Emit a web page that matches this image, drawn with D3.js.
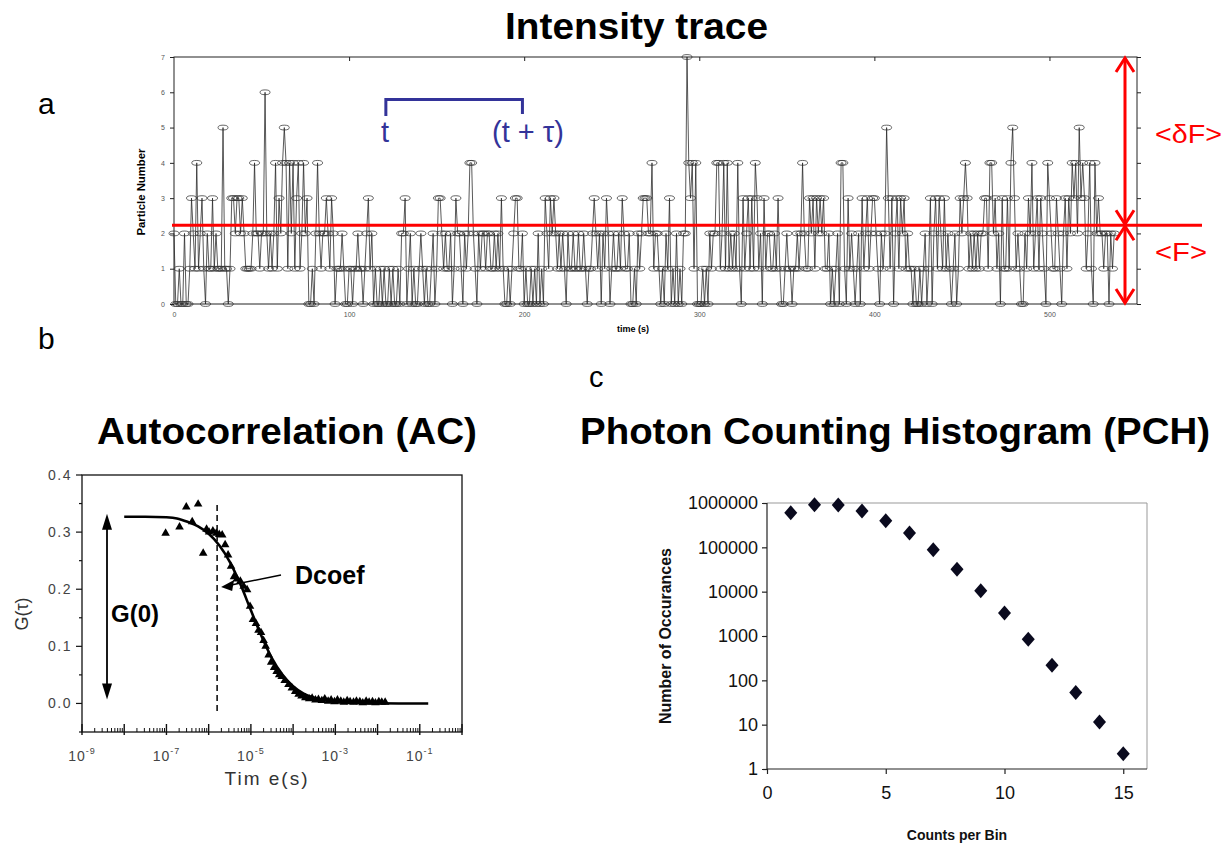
<!DOCTYPE html>
<html><head><meta charset="utf-8">
<script src="https://cdn.jsdelivr.net/npm/d3@7"></script>
<style>
body{margin:0;background:#fff;}
svg{display:block;}
text{font-family:"Liberation Sans",Arial,Helvetica,sans-serif;}
</style>
</head><body>
<svg id="fig" width="1225" height="847"></svg>
<script>
// ---------- Panel a: intensity trace (particle number per 1 s bin) ----------
const traceCounts = [
2,0,0,1,0,0,2,0,0,1, 3,2,1,4,1,2,3,1,0,2, 1,1,3,1,2,1,1,1,5,1, 1,0,1,3,3,2,3,3,2,3,
2,1,1,1,1,2,4,2,2,1, 2,2,6,2,1,2,1,2,4,1, 3,2,4,5,4,1,4,2,4,1, 3,4,1,2,4,2,3,0,0,1,
0,2,4,2,1,2,2,3,2,1, 3,2,0,1,1,1,2,1,0,0, 1,1,0,1,1,2,1,1,0,1, 2,3,1,2,0,1,0,0,1,0,
1,0,0,1,0,1,0,0,1,0, 2,2,3,0,1,2,0,1,0,0, 1,2,1,0,1,0,0,1,2,0, 1,3,3,2,1,2,1,1,2,0,
1,3,2,2,1,0,2,1,2,4, 4,2,1,0,2,1,2,2,1,2, 2,1,1,2,1,2,1,3,1,0, 0,1,0,1,2,3,3,1,1,2,
0,1,0,0,1,0,1,0,2,0, 1,0,3,2,1,3,2,3,2,1, 2,1,2,1,0,2,1,1,2,1, 1,2,1,1,2,1,0,1,1,2,
3,2,1,2,0,2,1,3,2,0, 1,2,1,1,2,1,3,2,1,1, 2,0,0,1,0,2,1,2,3,3, 3,2,2,4,1,2,2,1,0,1,
0,2,1,3,0,1,0,2,0,1, 0,2,2,7,4,3,4,1,4,0, 0,0,1,0,1,0,2,1,2,2, 4,4,1,2,4,1,4,1,2,1,
2,1,4,1,0,3,1,2,3,1, 3,1,4,3,1,2,0,3,1,2, 2,1,1,2,1,3,1,0,0,1, 2,1,1,0,1,1,2,1,2,4,
2,1,1,3,2,3,1,3,2,3, 2,3,1,1,2,0,1,0,1,2, 0,4,4,1,0,3,1,2,1,0, 1,2,0,3,1,2,3,1,2,3,
3,2,1,0,2,1,2,5,3,1, 3,0,2,3,1,3,2,3,1,2, 1,1,0,1,0,0,1,0,1,2, 0,1,3,0,2,3,1,3,2,1,
3,1,2,1,0,1,2,0,1,3, 2,3,4,3,1,2,1,2,1,2, 1,2,2,3,3,1,4,4,2,3, 1,2,0,3,1,1,3,1,4,5,
3,1,2,1,0,0,2,1,3,2, 4,1,2,3,1,3,2,1,0,4, 3,2,1,1,3,2,1,0,2,3, 1,3,2,4,3,4,2,5,3,4,
3,1,2,4,1,0,4,2,3,2, 2,1,2,2,0,2,1,2
];
const traceXTicks = [0,100,200,300,400,500];
const traceYTicks = [0,1,2,3,4,5,6,7];
const meanLevel = 2.23;

// ---------- Panel b: autocorrelation ----------
const acCurveLogTau = [-8,-7.5,-7,-6.75,-6.5,-6.25,-6,-5.75,-5.5,-5.25,-5,-4.75,-4.5,-4.25,-4,-3.75,-3.5,-3.25,-3,-2.5,-2,-1.5,-0.8];
const acCurveG      = [0.327,0.327,0.326,0.324,0.318,0.310,0.297,0.277,0.248,0.209,0.163,0.118,0.079,0.050,0.030,0.017,0.010,0.006,0.003,0.001,0.0003,0,0];
const acDataLogTau = [-7.02,-6.69,-6.53,-6.39,-6.25,-6.13,-6.05,-5.99,-5.90,-5.82,-5.75,-5.68,-5.61,-5.54,-5.47,-5.40,-5.33,-5.25,-5.17,-5.09,
  -5.02,-4.95,-4.88,-4.82,-4.76,-4.70,-4.65,-4.58,-4.52,-4.45,-4.39,-4.33,-4.27,-4.20,-4.11,-4.03,-3.95,-3.87,-3.80,-3.71,
  -3.62,-3.55,-3.47,-3.40,-3.32,-3.25,-3.17,-3.10,-3.02,-2.95,-2.87,-2.80,-2.72,-2.65,-2.57,-2.50,-2.42,-2.35,-2.27,-2.20,
  -2.12,-2.05,-1.97,-1.90,-1.82];
const acDataG = [0.298,0.309,0.344,0.318,0.349,0.263,0.305,0.300,0.302,0.298,0.296,0.295,0.278,0.260,0.240,0.222,0.218,0.214,0.205,0.199,
  0.170,0.147,0.140,0.128,0.124,0.110,0.100,0.085,0.072,0.063,0.056,0.050,0.047,0.040,0.033,0.027,0.021,0.016,0.013,0.010,
  0.008,0.009,0.006,0.007,0.005,0.008,0.004,0.006,0.003,0.006,0.004,0.002,0.005,0.003,0.002,0.004,0.003,0.001,0.004,0.002,
  0.003,0.001,0.003,0.002,0.002];
const acYTicks = [0,0.1,0.2,0.3,0.4];
const acXLabelExponents = [-9,-7,-5,-3,-1];
const dcoefLogTau = -5.8;
const g0Value = 0.327;

// ---------- Panel c: photon counting histogram ----------
const pchCounts = [1,2,3,4,5,6,7,8,9,10,11,12,13,14,15];
const pchOccurrences = [600000,910000,900000,660000,400000,210000,88000,32000,10500,3300,850,220,53,11.5,2.2];
const pchXTicks = [0,5,10,15];
const pchYTicks = [1,10,100,1000,10000,100000,1000000];

const svg = d3.select("#fig");

// ================= Panel a =================
const ga = svg.append("g");
const xa = d3.scaleLinear().domain([0,550]).range([174,1137]);
const ya = d3.scaleLinear().domain([0,7]).range([304,57]);

ga.append("text").attr("x",505).attr("y",39).attr("textLength",263).attr("lengthAdjust","spacingAndGlyphs")
  .attr("font-size",36).attr("font-weight","bold").text("Intensity trace");
svg.append("text").attr("x",38).attr("y",114).attr("font-size",30).text("a");
svg.append("text").attr("x",38).attr("y",349).attr("font-size",30).text("b");
svg.append("text").attr("x",589).attr("y",387).attr("font-size",29).text("c");

// frame
ga.append("rect").attr("x",xa(0)).attr("y",ya(7)).attr("width",xa(550)-xa(0)).attr("height",ya(0)-ya(7))
  .attr("fill","none").attr("stroke","#222").attr("stroke-width",1);

// trace line
const traceLine = d3.line().x((d,i)=>xa(i)).y(d=>ya(d));
ga.append("path").datum(traceCounts).attr("d",traceLine)
  .attr("fill","none").attr("stroke","#222").attr("stroke-width",0.75);
ga.selectAll("ellipse.pt").data(traceCounts).join("ellipse").attr("class","pt")
  .attr("cx",(d,i)=>xa(i)).attr("cy",d=>ya(d)).attr("rx",5).attr("ry",2.4)
  .attr("fill","none").attr("stroke","#333").attr("stroke-width",0.75);

// axes
const axLeft = d3.axisLeft(ya).tickValues(traceYTicks).tickSize(4).tickPadding(5).tickFormat(d3.format("d"));
const gl = ga.append("g").attr("transform",`translate(${xa(0)},0)`).call(axLeft);
const axRight = d3.axisLeft(ya).tickValues(traceYTicks).tickSize(4).tickFormat("");
ga.append("g").attr("transform",`translate(${xa(550)+4},0)`).call(axRight);
const axBottom = d3.axisBottom(xa).tickValues(traceXTicks).tickSize(0).tickPadding(8).tickFormat(d3.format("d"));
const gb = ga.append("g").attr("transform",`translate(0,${ya(0)})`).call(axBottom);
const axTop = d3.axisBottom(xa).tickValues(traceXTicks.slice(1)).tickSize(4).tickFormat("");
ga.append("g").attr("transform",`translate(0,${ya(7)})`).call(axTop);
ga.selectAll(".domain").remove();
ga.selectAll(".tick line").attr("stroke","#222");
[gl,gb].forEach(g=>g.selectAll("text").attr("font-size",7).attr("fill","#555").attr("font-family","Liberation Sans, Arial"));

ga.append("text").attr("transform","translate(145,192) rotate(-90)").attr("text-anchor","middle")
  .attr("font-size",10).attr("font-weight","bold").attr("textLength",87).attr("lengthAdjust","spacingAndGlyphs").text("Particle Number");
ga.append("text").attr("x",633).attr("y",332).attr("text-anchor","middle")
  .attr("font-size",9).attr("font-weight","bold").text("time (s)");

// blue bracket t ... t+tau
const blue = "#333399";
ga.append("path").attr("d",`M${xa(121)},116 V99.5 H${xa(199)} V114`)
  .attr("fill","none").attr("stroke",blue).attr("stroke-width",3);
ga.append("text").attr("x",xa(120.5)).attr("y",142).attr("text-anchor","middle").attr("font-size",29).attr("fill",blue).text("t");
ga.append("text").attr("x",528).attr("y",142).attr("text-anchor","middle").attr("font-size",29).attr("fill",blue).text("(t + τ)");

// red mean line & arrows
const red = "#ff0000";
const yMean = ya(meanLevel);
ga.append("line").attr("x1",172).attr("x2",1202).attr("y1",yMean).attr("y2",yMean)
  .attr("stroke",red).attr("stroke-width",3);
const ax = 1125;
const arrowDefs = [[ya(7),yMean],[yMean,ya(0)]];
arrowDefs.forEach(([a,b])=>{
  ga.append("line").attr("x1",ax).attr("x2",ax).attr("y1",a+1).attr("y2",b-1).attr("stroke",red).attr("stroke-width",3);
  ga.append("path").attr("d",`M${ax-9},${a+15} L${ax},${a+1} L${ax+9},${a+15}`).attr("fill","none").attr("stroke",red).attr("stroke-width",3);
  ga.append("path").attr("d",`M${ax-9},${b-15} L${ax},${b-1} L${ax+9},${b-15}`).attr("fill","none").attr("stroke",red).attr("stroke-width",3);
});
ga.append("text").attr("x",1155).attr("y",143).attr("textLength",67).attr("lengthAdjust","spacingAndGlyphs")
  .attr("font-size",26).attr("fill",red).text("<δF>");
ga.append("text").attr("x",1155).attr("y",261).attr("textLength",52).attr("lengthAdjust","spacingAndGlyphs")
  .attr("font-size",26).attr("fill",red).text("<F>");

// ================= Panel b =================
const gbp = svg.append("g");
const xb = d3.scaleLog().domain([1e-9,1]).range([82,462]);
const yb = d3.scaleLinear().domain([-0.05,0.4]).range([732,475]);

gbp.append("text").attr("x",97).attr("y",444).attr("textLength",380).attr("lengthAdjust","spacingAndGlyphs")
  .attr("font-size",37).attr("font-weight","bold").text("Autocorrelation (AC)");

gbp.append("rect").attr("x",82).attr("y",475).attr("width",380).attr("height",257)
  .attr("fill","none").attr("stroke","#111").attr("stroke-width",1.3);

// y ticks
d3.range(-0.05,0.401,0.05).forEach(v=>{
  const major = Math.abs(Math.round(v*10)-v*10)<1e-6;
  gbp.append("line").attr("x1",82).attr("x2",major?76:79).attr("y1",yb(v)).attr("y2",yb(v)).attr("stroke","#111").attr("stroke-width",1.2);
});
acYTicks.forEach(v=>{
  gbp.append("text").attr("x",72).attr("y",yb(v)+5).attr("text-anchor","end").attr("font-size",14)
    .attr("letter-spacing",1.5).attr("fill","#444").text(d3.format(".1f")(v));
});
// x ticks (log)
for(let e=-9;e<=0;e++){
  gbp.append("line").attr("x1",xb(Math.pow(10,e))).attr("x2",xb(Math.pow(10,e))).attr("y1",735).attr("y2",724)
    .attr("stroke","#111").attr("stroke-width",1.4);
  if(e<0){
    for(let m=2;m<=9;m++){
      const xv = xb(m*Math.pow(10,e));
      gbp.append("line").attr("x1",xv).attr("x2",xv).attr("y1",732).attr("y2",728).attr("stroke","#111").attr("stroke-width",1);
    }
  }
}
acXLabelExponents.forEach(e=>{
  const t = gbp.append("text").attr("x",xb(Math.pow(10,e))).attr("y",761).attr("text-anchor","middle").attr("font-size",14)
    .attr("letter-spacing",1).attr("fill","#444");
  t.append("tspan").text("10");
  t.append("tspan").attr("dy",-7).attr("font-size",9).text(String(e));
});
gbp.append("text").attr("x",267).attr("y",785).attr("text-anchor","middle").attr("font-size",19).attr("fill","#333")
  .attr("letter-spacing",2).text("Tim e(s)");
gbp.append("text").attr("transform","translate(28,614) rotate(-90)").attr("text-anchor","middle")
  .attr("font-size",18).attr("fill","#333").text("G(τ)");

// fit curve
const acCurve = acCurveLogTau.map((l,i)=>[Math.pow(10,l),acCurveG[i]]);
gbp.append("path").datum(acCurve).attr("d",d3.line().x(d=>xb(d[0])).y(d=>yb(d[1])).curve(d3.curveMonotoneX))
  .attr("fill","none").attr("stroke","#000").attr("stroke-width",2.6);
// data triangles
const tri = d3.symbol().type(d3.symbolTriangle).size(32);
gbp.selectAll("path.tri").data(acDataLogTau).join("path").attr("class","tri")
  .attr("d",tri).attr("transform",(l,i)=>`translate(${xb(Math.pow(10,l))},${yb(acDataG[i])})`).attr("fill","#000");

// dashed line (Dcoef)
gbp.append("line").attr("x1",xb(Math.pow(10,dcoefLogTau))).attr("x2",xb(Math.pow(10,dcoefLogTau)))
  .attr("y1",505).attr("y2",712).attr("stroke","#000").attr("stroke-width",1.5).attr("stroke-dasharray","6,4");
// Dcoef arrow
const dx = xb(Math.pow(10,dcoefLogTau))+4;
gbp.append("line").attr("x1",281).attr("y1",575).attr("x2",dx+10).attr("y2",585).attr("stroke","#000").attr("stroke-width",1.5);
gbp.append("path").attr("d",`M${dx},587 L${dx+13},580 L${dx+11},591 Z`).attr("fill","#000");
gbp.append("text").attr("x",295).attr("y",584).attr("font-size",25).attr("font-weight","bold").text("Dcoef");

// G(0) double arrow
const gx = 107;
gbp.append("line").attr("x1",gx).attr("x2",gx).attr("y1",yb(g0Value)+10).attr("y2",yb(0)-10).attr("stroke","#000").attr("stroke-width",1.8);
gbp.append("path").attr("d",`M${gx},${yb(g0Value)-3} L${gx-5},${yb(g0Value)+13} L${gx+5},${yb(g0Value)+13} Z`).attr("fill","#000");
gbp.append("path").attr("d",`M${gx},${yb(0)-4} L${gx-5},${yb(0)-20} L${gx+5},${yb(0)-20} Z`).attr("fill","#000");
gbp.append("text").attr("x",111).attr("y",622).attr("font-size",24).attr("font-weight","bold").text("G(0)");

// ================= Panel c =================
const gc = svg.append("g");
const xc = d3.scaleLinear().domain([0,16]).range([767,1147]);
const yc = d3.scaleLog().domain([1,1e6]).range([769,503]);

gc.append("text").attr("x",580).attr("y",444).attr("textLength",630).attr("lengthAdjust","spacingAndGlyphs")
  .attr("font-size",37).attr("font-weight","bold").text("Photon Counting Histogram (PCH)");

gc.append("line").attr("x1",xc(0)).attr("x2",xc(16)).attr("y1",yc(1e6)).attr("y2",yc(1e6)).attr("stroke","#999").attr("stroke-width",1);
gc.append("line").attr("x1",xc(16)).attr("x2",xc(16)).attr("y1",yc(1e6)).attr("y2",yc(1)).attr("stroke","#999").attr("stroke-width",1);

const pchLeft = d3.axisLeft(yc).tickValues(pchYTicks).tickSize(5).tickPadding(4).tickFormat(d3.format("d"));
const pl = gc.append("g").attr("transform",`translate(${xc(0)},0)`).call(pchLeft);
const pchBottom = d3.axisBottom(xc).tickValues(pchXTicks).tickSize(5).tickPadding(12).tickFormat(d3.format("d"));
const pb = gc.append("g").attr("transform",`translate(0,${yc(1)})`).call(pchBottom);
[pl,pb].forEach(g=>{
  g.select(".domain").attr("stroke","#222").attr("stroke-width",1.2);
  g.selectAll(".tick line").attr("stroke","#222").attr("stroke-width",1.2);
  g.selectAll("text").attr("font-size",18).attr("fill","#111").attr("font-family","Liberation Sans, Arial");
});
pb.select(".domain").attr("d",`M${xc(0)},0H${xc(16)}`);
pl.select(".domain").attr("d",`M0,${yc(1e6)}V${yc(1)}`);

const diamond = "M0,-7.5 L6.5,0 L0,7.5 L-6.5,0 Z";
gc.selectAll("path.dia").data(pchCounts).join("path").attr("class","dia")
  .attr("d",diamond).attr("transform",(c,i)=>`translate(${xc(c)},${yc(pchOccurrences[i])})`).attr("fill","#0a0a1e");

gc.append("text").attr("transform","translate(671,636) rotate(-90)").attr("text-anchor","middle")
  .attr("font-size",16).attr("font-weight","bold").attr("fill","#111").text("Number of Occurances");
gc.append("text").attr("x",957).attr("y",840).attr("text-anchor","middle")
  .attr("font-size",14).attr("font-weight","bold").attr("fill","#111").text("Counts per Bin");
</script>
</body></html>
